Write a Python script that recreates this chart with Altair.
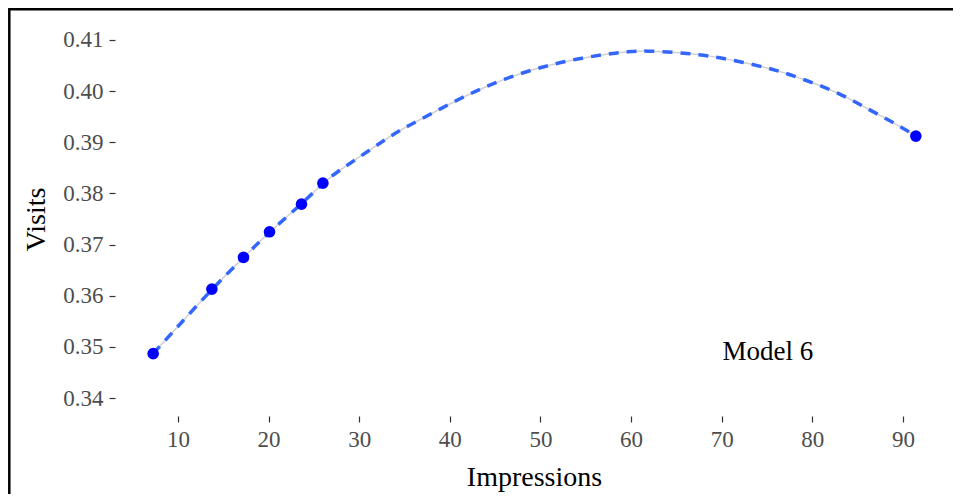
import altair as alt
import pandas as pd

# observed points
point_x = [7.27, 13.75, 17.24, 20.11, 23.64, 26.0, 91.43]
point_y = [0.3487, 0.3613, 0.3675, 0.3725, 0.3779, 0.3820, 0.3912]

# fitted curve
curve_x = [7.27, 10.0, 13.75, 17.24, 20.11, 23.64, 26.0, 27.54, 31.22, 34.17, 37.48,
           41.15, 44.38, 47.77, 51.27, 54.58, 58.07, 59.54, 61.75, 65.35, 68.81,
           72.41, 75.91, 79.22, 82.89, 86.03, 89.34, 91.43]
curve_y = [0.3487, 0.3540, 0.3613, 0.3675, 0.3725, 0.3779, 0.3820, 0.3842, 0.3885,
           0.3921, 0.3951, 0.3986, 0.4012, 0.4035, 0.4052, 0.4065, 0.4074, 0.4077,
           0.4079, 0.4075, 0.4069, 0.4056, 0.4042, 0.4022, 0.3997, 0.3966, 0.3935,
           0.3912]

x_ticks = [10, 20, 30, 40, 50, 60, 70, 80, 90]
y_ticks = [0.34, 0.35, 0.36, 0.37, 0.38, 0.39, 0.40, 0.41]

label_text = ["Model 6"]
label_x = [75.1]
label_y = [0.349]

pts = pd.DataFrame({"Impressions": point_x, "Visits": point_y})
curve = pd.DataFrame({"Impressions": curve_x, "Visits": curve_y})
lab = pd.DataFrame({"t": label_text, "Impressions": label_x, "Visits": label_y})

FONT = "Liberation Serif"
W, H = 838, 394

xscale = alt.Scale(domain=[3.06, 95.53], nice=False, zero=False)
yscale = alt.Scale(domain=[0.3365, 0.4135], nice=False, zero=False)

xaxis = alt.Axis(values=x_ticks, grid=False, domain=False, tickSize=6, tickColor="#333333",
                 tickWidth=1.2, labelFont=FONT, labelFontSize=23, labelColor="#4D4D4D",
                 labelPadding=6, titleFont=FONT, titleFontSize=28, titleColor="black",
                 titleFontWeight="normal", titlePadding=12)
yaxis = alt.Axis(values=y_ticks, format=".2f", grid=False, domain=False, tickSize=6,
                 tickColor="#333333", tickWidth=1.2, labelFont=FONT, labelFontSize=23,
                 labelColor="#4D4D4D", labelPadding=6, titleFont=FONT, titleFontSize=28,
                 titleColor="black", titleFontWeight="normal", titlePadding=12)

base_x = alt.X("Impressions:Q", scale=xscale, axis=xaxis, title="Impressions")
base_y = alt.Y("Visits:Q", scale=yscale, axis=yaxis, title="Visits")

gray = alt.Chart(curve).mark_line(color="#D0D0D0", strokeWidth=1.5, interpolate="basis").encode(
    x=base_x, y=base_y)
dashed = alt.Chart(curve).mark_line(color="#3366FF", strokeWidth=3.5, strokeDash=[10, 8],
                                    interpolate="basis").encode(x=base_x, y=base_y)
dots = alt.Chart(pts).mark_point(filled=True, color="#0000FF", size=135, opacity=1).encode(
    x=base_x, y=base_y)
txt = alt.Chart(lab).mark_text(font=FONT, fontSize=27, color="black", align="center",
                               baseline="middle").encode(x=base_x, y=base_y, text="t:N")

frame_data = alt.Data(values=[{"a": 1}])
frame = alt.Chart(frame_data).mark_rect(fill=None, fillOpacity=0, stroke="black",
                                        strokeWidth=2.5).encode(
    x=alt.value(-105.7), x2=alt.value(950), y=alt.value(-12.7), y2=alt.value(600))

chart = alt.layer(gray, dashed, dots, txt, frame).properties(
    width=W, height=H,
    background="white",
    padding={"left": 107, "top": 14, "right": 0, "bottom": 78},
    autosize=alt.AutoSizeParams(type="none"),
).configure_view(strokeWidth=0, stroke=None)

chart.save("out.html", embed_options={"renderer": "svg", "actions": False})
